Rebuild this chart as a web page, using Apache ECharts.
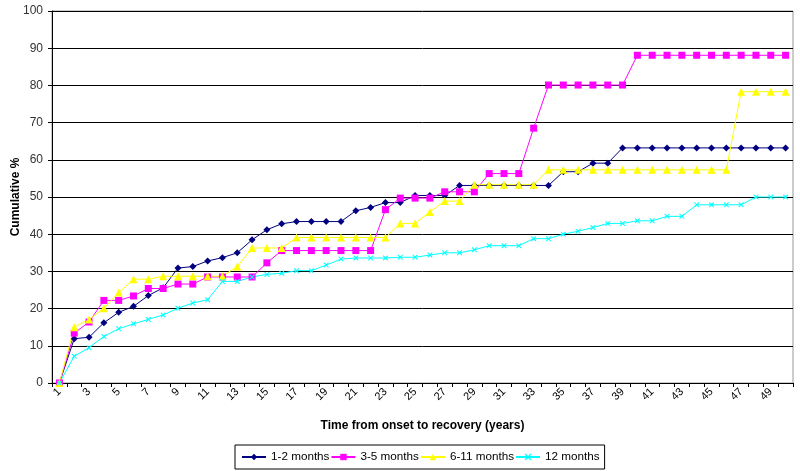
<!DOCTYPE html>
<html>
<head>
<meta charset="utf-8">
<script src="https://cdn.jsdelivr.net/npm/echarts@6/dist/echarts.min.js"></script>
<style>html,body{margin:0;padding:0;background:#fff}#c{width:800px;height:471px}</style>
</head>
<body>
<div id="c"></div>
<script>
var categories = ['1','2','3','4','5','6','7','8','9','10','11','12','13','14','15','16','17','18','19','20','21','22','23','24','25','26','27','28','29','30','31','32','33','34','35','36','37','38','39','40','41','42','43','44','45','46','47','48','49','50'];
var seriesNames = ['1-2 months','3-5 months','6-11 months','12 months'];
var m1_2 = [0,11.9,12.3,16.2,19.0,20.6,23.5,25.6,30.9,31.3,32.8,33.7,35.0,38.5,41.2,42.8,43.4,43.4,43.4,43.4,46.3,47.2,48.5,48.5,50.4,50.4,50.4,53.1,53.1,53.1,53.1,53.1,53.1,53.1,56.8,56.8,59.1,59.1,63.2,63.2,63.2,63.2,63.2,63.2,63.2,63.2,63.2,63.2,63.2,63.2];
var m3_5 = [0,13.4,16.4,22.2,22.2,23.4,25.4,25.4,26.6,26.6,28.5,28.5,28.5,28.5,32.3,35.6,35.6,35.6,35.6,35.6,35.6,35.6,46.6,49.7,49.7,49.7,51.4,51.4,51.4,56.3,56.3,56.3,68.5,80.1,80.1,80.1,80.1,80.1,80.1,88.1,88.1,88.1,88.1,88.1,88.1,88.1,88.1,88.1,88.1,88.1];
var m6_11 = [0,15.0,17.1,20.1,24.3,27.9,27.9,28.7,28.7,28.7,28.7,28.7,31.3,36.3,36.3,36.3,39.1,39.1,39.1,39.1,39.1,39.1,39.1,42.9,42.9,46.0,48.9,48.9,53.3,53.3,53.3,53.3,53.3,57.3,57.3,57.3,57.3,57.3,57.3,57.3,57.3,57.3,57.3,57.3,57.3,57.3,78.3,78.3,78.3,78.3];
var m12 = [0,7.2,9.5,12.5,14.6,15.9,17.1,18.3,20.1,21.5,22.4,27.3,27.3,28.5,29.2,29.5,30.2,30.2,31.7,33.3,33.6,33.6,33.6,33.8,33.8,34.4,35.0,35.0,35.8,36.9,36.9,36.9,38.8,38.8,40.0,40.8,41.8,42.9,42.9,43.6,43.6,44.8,44.8,47.9,47.9,47.9,47.9,50.0,50.0,50.0];
var yTicks = {min: 0, max: 100, interval: 10};

var xPath = 'path://M0,0 L1.5,0 L5,3.5 L8.5,0 L10,0 L10,1.5 L6.5,5 L10,8.5 L10,10 L8.5,10 L5,6.5 L1.5,10 L0,10 L0,8.5 L3.5,5 L0,1.5 Z';
var FONT = '"Liberation Sans", Arial, sans-serif';

function mk(name, data, color, symbol, size) {
  return {
    name: name, type: 'line', data: data,
    symbol: symbol, symbolSize: size, showSymbol: true,
    lineStyle: {color: color, width: 1},
    itemStyle: {color: color, borderWidth: 0},
    emphasis: {disabled: true}
  };
}

var chart = echarts.init(document.getElementById('c'), null, {renderer: 'canvas'});
chart.setOption({
  animation: false,
  backgroundColor: '#fff',
  grid: {left: 52, right: 7, top: 11, bottom: 88, containLabel: false, outerBoundsMode: 'none',
         show: true, borderColor: '#999', borderWidth: 1, backgroundColor: 'transparent'},
  xAxis: {
    type: 'category', data: categories, boundaryGap: true,
    name: 'Time from onset to recovery (years)', nameLocation: 'middle', nameGap: 37,
    nameMoveOverlap: false,
    nameTextStyle: {fontFamily: FONT, fontSize: 12, fontWeight: 'bold', color: '#000'},
    axisLine: {lineStyle: {color: '#000', width: 1}},
    axisTick: {show: true, length: 4, lineStyle: {color: '#000'}, interval: 0},
    axisLabel: {interval: 1, rotate: 45, fontFamily: FONT, fontSize: 11, color: '#000', margin: 7},
    splitLine: {show: false}
  },
  yAxis: {
    type: 'value', min: yTicks.min, max: yTicks.max, interval: yTicks.interval,
    name: 'Cumulative %', nameLocation: 'middle', nameGap: 30, nameRotate: 90,
    nameMoveOverlap: false,
    nameTextStyle: {fontFamily: FONT, fontSize: 12, fontWeight: 'bold', color: '#000'},
    axisLine: {show: true, lineStyle: {color: '#000', width: 1}},
    axisTick: {show: true, length: 4, lineStyle: {color: '#000'}},
    axisLabel: {fontFamily: FONT, fontSize: 12, color: '#333', margin: 9},
    splitLine: {show: true, lineStyle: {color: '#000', width: 1}}
  },
  legend: {
    data: seriesNames, top: 445, left: 235,
    orient: 'horizontal', borderColor: '#000', borderWidth: 1, padding: [6, 5, 6, 6], itemGap: 1,
    itemWidth: 24, itemHeight: 8,
    textStyle: {fontFamily: FONT, fontSize: 11.7, color: '#000'}
  },
  series: [
    mk(seriesNames[0], m1_2, '#000080', 'diamond', 7),
    mk(seriesNames[1], m3_5, '#FF00FF', 'rect', 7),
    mk(seriesNames[2], m6_11, '#FFFF00', 'triangle', 8),
    mk(seriesNames[3], m12, '#00FFFF', xPath, 5)
  ]
});
</script>
</body>
</html>
